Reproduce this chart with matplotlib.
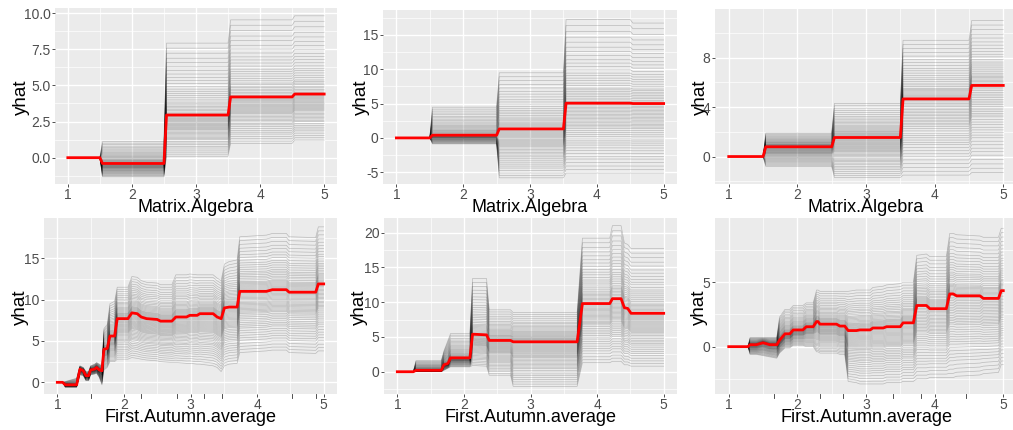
import numpy as np
import matplotlib
matplotlib.use("Agg")
import matplotlib.pyplot as plt
import matplotlib.transforms as mtransforms

plt.rcParams['font.family'] = ['Liberation Sans', 'DejaVu Sans']

# --- data ------------------------------------------------------------
# ICE spread: position of each curve between the lower edge (-1), the mean (0) and the upper edge (+1)
ice_fracs = [-1.00, -0.95, -0.90, -0.85, -0.80, -0.76, -0.72, -0.68, -0.64, -0.60,
             -0.57, -0.54, -0.51, -0.48, -0.45, -0.42, -0.39, -0.36, -0.34, -0.32,
             -0.30, -0.28, -0.26, -0.24, -0.22, -0.20, -0.18, -0.16, -0.14, -0.12,
             -0.10, -0.08, -0.06, -0.04, -0.02, 0.00, 0.02, 0.04, 0.06, 0.08,
             0.10, 0.12, 0.14, 0.16, 0.18, 0.21, 0.24, 0.27, 0.30, 0.33,
             0.36, 0.40, 0.44, 0.48, 0.52, 0.57, 0.62, 0.67, 0.73, 0.79,
             0.86, 0.93, 1.00]

# Matrix.Algebra (top row): one level per segment, jumps at the breaks
ma_breaks = [1.5, 2.5, 3.5, 4.5]
ma1_mean = [0, -0.40, 2.95, 4.20, 4.40]
ma1_lo   = [0, -1.32, 0.10, 0.99, 1.22]
ma1_hi   = [0, 1.11, 7.92, 9.53, 9.81]
ma2_mean = [0, 0.40, 1.31, 5.05, 5.00]
ma2_lo   = [0, -0.87, -5.80, -5.10, -5.10]
ma2_hi   = [0, 4.47, 9.47, 17.2, 16.7]
ma3_mean = [0, 0.79, 1.54, 4.66, 5.75]
ma3_lo   = [0, -0.80, -1.70, -1.50, -1.30]
ma3_hi   = [0, 1.90, 4.30, 9.40, 11.0]

# First.Autumn.average (bottom row)
fa1_x    = [1.00, 1.08, 1.12, 1.29, 1.34, 1.39, 1.43, 1.47, 1.50, 1.56, 1.59, 1.63, 1.67, 1.70, 1.75,
            1.79, 1.86, 1.90, 2.06, 2.12, 2.20, 2.26, 2.34, 2.50, 2.55, 2.72, 2.78, 2.94, 2.99, 3.10,
            3.14, 3.34, 3.40, 3.46, 3.51, 3.58, 3.70, 3.74, 4.14, 4.23, 4.44, 4.48, 4.88, 4.92, 5.00]
fa1_mean = [0, 0, -0.3, -0.3, 1.6, 1.4, 0.8, 0.8, 1.5, 1.6, 1.8, 1.5, 1.4, 4.0, 4.1,
            5.6, 5.6, 7.7, 7.7, 8.4, 8.3, 7.9, 7.7, 7.6, 7.4, 7.4, 7.9, 7.9, 8.1, 8.1,
            8.3, 8.3, 7.9, 7.7, 9.0, 9.1, 9.1, 11.0, 11.0, 11.2, 11.2, 10.9, 10.9, 11.9, 11.9]
fa1_lo   = [0, 0, -0.6, -0.6, 0.9, 0.8, 0.2, 0.2, 0.9, 1.0, 1.1, 0.6, -0.3, 1.5, 1.8,
            2.5, 2.5, 2.8, 2.8, 3.0, 2.9, 2.8, 2.7, 2.6, 2.5, 2.4, 2.4, 2.3, 2.3, 2.2,
            2.2, 2.0, 1.8, 1.3, 2.0, 2.2, 2.3, 3.6, 3.8, 3.9, 3.9, 3.6, 3.5, 3.8, 3.8]
fa1_hi   = [0, 0, 0.1, 0.5, 2.0, 1.8, 1.3, 1.3, 2.0, 2.2, 2.4, 2.2, 2.0, 6.5, 7.0,
            9.5, 9.8, 11.5, 11.5, 12.8, 12.7, 12.3, 12.1, 12.0, 11.8, 11.8, 13.0, 13.0, 13.1, 13.0,
            13.0, 13.0, 12.6, 12.3, 14.3, 14.6, 14.8, 17.6, 17.8, 18.0, 18.0, 17.6, 17.5, 18.8, 18.8]

fa2_x    = [1.00, 1.24, 1.28, 1.66, 1.70, 1.76, 1.80, 2.09, 2.13, 2.34, 2.38, 2.70, 2.74, 3.70, 3.78,
            4.19, 4.23, 4.36, 4.41, 4.46, 4.51, 5.00]
fa2_mean = [0, 0, 0.2, 0.2, 1.0, 1.2, 2.0, 2.0, 5.4, 5.3, 4.5, 4.5, 4.3, 4.3, 9.8,
            9.8, 10.5, 10.5, 9.2, 9.1, 8.4, 8.4]
fa2_lo   = [0, 0, 0, 0, 0.2, 0.5, 0.7, 0.7, 0.9, 0.8, -0.5, -0.5, -2.1, -2.1, 1.3,
            1.3, 1.5, 1.5, 1.0, 1.0, 0.8, 0.8]
fa2_hi   = [0, 0, 1.6, 1.6, 3.0, 4.5, 5.5, 5.5, 13.4, 13.4, 8.9, 8.9, 8.5, 8.5, 19.2,
            19.2, 21.0, 21.0, 18.5, 18.3, 17.7, 17.7]

fa3_x    = [1.00, 1.28, 1.31, 1.40, 1.50, 1.60, 1.70, 1.74, 1.82, 1.89, 1.94, 2.08, 2.13, 2.23, 2.28,
            2.30, 2.33, 2.57, 2.62, 2.69, 2.74, 2.86, 2.91, 3.06, 3.10, 3.25, 3.30, 3.50, 3.54, 3.69,
            3.74, 3.88, 3.93, 4.17, 4.22, 4.27, 4.32, 4.66, 4.71, 4.93, 4.97, 5.00]
fa3_mean = [0, 0, 0.15, 0.15, 0.3, 0.15, 0.15, 0.5, 1.0, 1.0, 1.3, 1.3, 1.55, 1.55, 1.95,
            1.95, 1.75, 1.75, 1.6, 1.6, 1.25, 1.25, 1.3, 1.3, 1.45, 1.45, 1.55, 1.55, 1.85, 1.85,
            3.2, 3.2, 2.95, 2.95, 4.1, 4.1, 3.95, 3.95, 3.75, 3.75, 4.35, 4.35]
fa3_lo   = [0, 0, -0.6, -0.6, -0.7, -0.8, -0.9, -0.5, -0.1, -0.1, 0.1, 0.1, 0.0, 0.0, -0.4,
            -0.4, -0.5, -0.5, -0.6, -0.6, -2.7, -2.8, -2.9, -2.9, -2.9, -2.9, -2.8, -2.8, -2.7, -2.7,
            -2.5, -2.5, -2.4, -2.4, -2.4, -2.4, -2.3, -2.2, -2.1, -2.0, -1.4, -1.4]
fa3_hi   = [0, 0, 0.7, 0.7, 0.7, 0.7, 0.7, 2.3, 2.9, 2.9, 3.2, 3.2, 3.4, 3.4, 4.4,
            4.4, 4.3, 4.3, 4.3, 4.3, 4.3, 4.4, 4.4, 4.4, 4.6, 4.7, 4.8, 4.9, 5.0, 5.0,
            7.1, 7.2, 7.0, 7.0, 8.8, 8.8, 8.7, 8.6, 8.5, 8.5, 9.2, 9.2]

# extra decile ticks under the bottom-row axes
fa1_rug = [1.5, 2.26, 2.8, 3.2, 3.475, 4.52, 4.885]
fa3_rug = [1.66, 2.33, 2.67, 3.39, 3.8, 4.45]

# --- layout (pixels in a 1013x430 picture) ---------------------------
W, H = 1013, 430
fig = plt.figure(figsize=(W / 100, H / 100), dpi=100)


def add_panel(l, t, r, b):
    return fig.add_axes([l / W, 1 - b / H, (r - l) / W, (b - t) / H])


def step_points(levels):
    xs, ys = [1.0], [levels[0]]
    for i, br in enumerate(ma_breaks):
        xs += [br, br + 0.04]
        ys += [levels[i], levels[i + 1]]
    xs.append(5.0)
    ys.append(levels[-1])
    return xs, ys


def steps(mean, lo, hi):
    x, m = step_points(mean)
    return x, m, step_points(lo)[1], step_points(hi)[1]


def draw(ax, x, mean, lo, hi, ylim, yticks, ylabels, yminor, rug=None):
    x = np.asarray(x, float)
    mean, lo, hi = (np.asarray(v, float) for v in (mean, lo, hi))
    ax.set_facecolor("#EBEBEB")
    for s in ax.spines.values():
        s.set_visible(False)
    for xm in [1.5, 2.5, 3.5, 4.5]:
        ax.axvline(xm, color="white", lw=0.5, zorder=0)
    for ym in yminor:
        ax.axhline(ym, color="white", lw=0.5, zorder=0)
    ax.set_axisbelow(True)
    ax.grid(True, which="major", color="white", lw=1.0)
    for f in ice_fracs:
        y = np.where(f >= 0, mean + f * (hi - mean), mean + f * (mean - lo))
        ax.plot(x, y, color="black", lw=0.5, alpha=0.21, zorder=2)
    ax.plot(x, mean, color="red", lw=2.0, zorder=3)
    ax.set_xlim(0.8, 5.2)
    ax.set_ylim(*ylim)
    ax.set_xticks([1, 2, 3, 4, 5])
    ax.set_yticks(yticks)
    ax.set_yticklabels(ylabels)
    ax.tick_params(labelsize=10, labelcolor="#4D4D4D", color="#333333",
                   length=2.2, width=0.6, pad=1)
    if rug:
        trans = mtransforms.blended_transform_factory(ax.transData, ax.transAxes)
        for rx in rug:
            ax.plot([rx, rx], [0, -0.02], color="#333333", lw=0.6,
                    transform=trans, clip_on=False)


# top row
ax1 = add_panel(55, 8, 337, 184)
draw(ax1, *steps(ma1_mean, ma1_lo, ma1_hi), (-1.82, 10.35), [0, 2.5, 5, 7.5, 10],
     ["0.0", "2.5", "5.0", "7.5", "10.0"], [-1.25, 1.25, 3.75, 6.25, 8.75])
ax2 = add_panel(383, 10, 677, 184)
draw(ax2, *steps(ma2_mean, ma2_lo, ma2_hi), (-6.7, 18.6), [-5, 0, 5, 10, 15],
     ["-5", "0", "5", "10", "15"], [-2.5, 2.5, 7.5, 12.5, 17.5])
ax3 = add_panel(715, 9, 1017, 184)
draw(ax3, *steps(ma3_mean, ma3_lo, ma3_hi), (-2.22, 11.93), [0, 4, 8],
     ["0", "4", "8"], [-2, 2, 6, 10])

# bottom row
ax4 = add_panel(44, 218, 337, 394)
draw(ax4, fa1_x, fa1_mean, fa1_lo, fa1_hi, (-1.41, 19.87), [0, 5, 10, 15],
     ["0", "5", "10", "15"], [2.5, 7.5, 12.5, 17.5], rug=fa1_rug)
ax5 = add_panel(384, 218, 677, 394)
draw(ax5, fa2_x, fa2_mean, fa2_lo, fa2_hi, (-3.2, 22.1), [0, 5, 10, 15, 20],
     ["0", "5", "10", "15", "20"], [-2.5, 2.5, 7.5, 12.5, 17.5])
ax6 = add_panel(715, 218, 1017, 394)
draw(ax6, fa3_x, fa3_mean, fa3_lo, fa3_hi, (-3.68, 10.0), [0, 5],
     ["0", "5"], [-2.5, 2.5, 7.5], rug=fa3_rug)

# axis titles
for cx, cy in [(21, 97), (361, 97), (700, 97), (20, 307), (359, 307), (699, 307)]:
    fig.text(cx / W, 1 - cy / H, "yhat", rotation=90, ha="center", va="center", fontsize=13.5)
for cx in [196, 530, 866]:
    fig.text(cx / W, 1 - 212 / H, "Matrix.Algebra", ha="center", va="baseline", fontsize=13)
for cx in [190, 530, 866]:
    fig.text(cx / W, 1 - 422 / H, "First.Autumn.average", ha="center", va="baseline", fontsize=13)

fig.savefig("out.png", dpi=100)
